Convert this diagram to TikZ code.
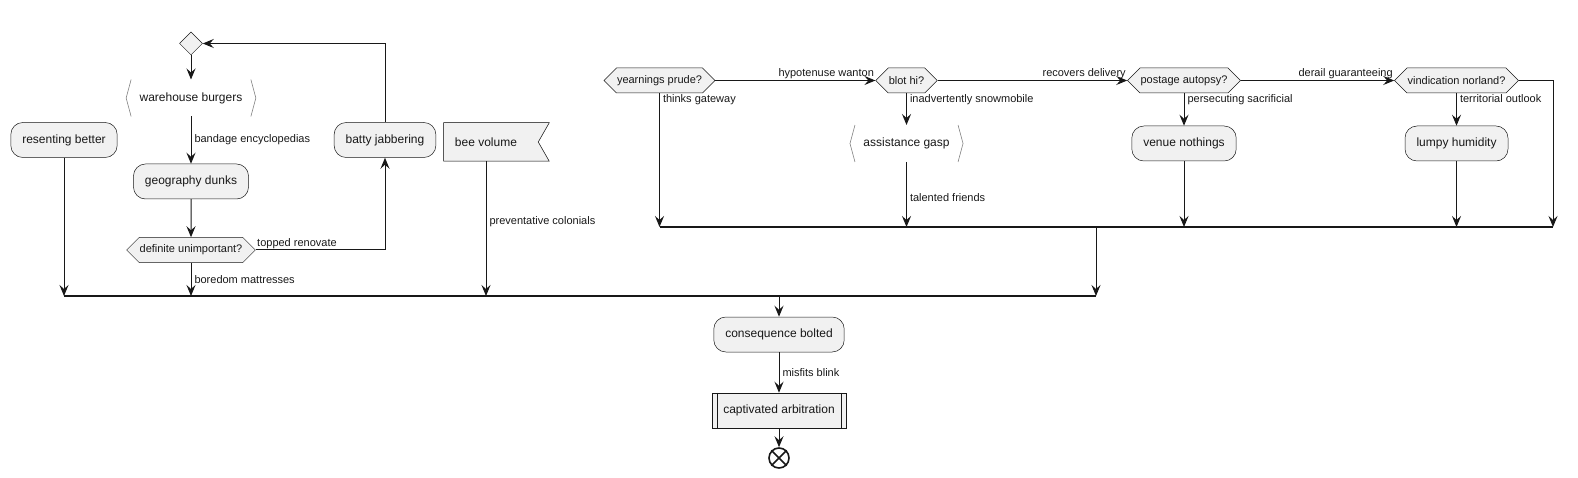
\documentclass[tikz,border=0pt]{standalone}
\usepackage{fontspec}
\setmainfont{Liberation Sans}
\usepackage{tikz}
\usetikzlibrary{arrows.meta,shapes.geometric,shapes.symbols,backgrounds}
\definecolor{boxfill}{HTML}{F1F1F1}
\definecolor{boxline}{HTML}{181818}
\tikzset{
  act/.style={draw=boxline,line width=0.5pt,fill=boxfill,rounded corners=12pt,minimum height=35pt,inner xsep=11.5pt,font=\fontsize{12}{14}\selectfont},
  sub/.style={act,rounded corners=0pt},
  cond/.style={draw=boxline,line width=0.5pt,fill=boxfill,signal,signal to=east and west,signal pointer angle=90,minimum height=25pt,inner xsep=0.5pt,inner ysep=2pt,font=\fontsize{11}{13}\selectfont},
  brk/.style={inner xsep=13pt,minimum height=36pt,font=\fontsize{12}{14}\selectfont},
  brkline/.style={draw=black!50,line width=0.6pt},
  lbl/.style={inner sep=1pt,font=\fontsize{11}{13}\selectfont},
  bar/.style={draw=boxline,line width=1.3pt},
}
\begin{document}
\begin{tikzpicture}[x=1pt,y=-1pt,>={Stealth[length=11pt,width=9pt,inset=4pt]},line width=1pt,color=boxline]
    \useasboundingbox (0,0) rectangle (1578,478);

    \node[diamond,draw=boxline,line width=0.5pt,fill=boxfill,minimum width=23pt,minimum height=23pt,inner sep=0pt] (top) at (191,43.5) {};
    \node[brk] (wb) at (191,98) {warehouse burgers};
    \node[act] (rb) at (64,140) {resenting better};
    \node[act] (gd) at (191,181.5) {geography dunks};
    \node[cond] (du) at (191,250) {definite unimportant?};
    \node[act] (bj) at (385,140) {batty jabbering};
    \node[act,draw=none,fill=none,minimum height=38pt,inner xsep=11pt] (bv) at (486,142) {bee volume};

    \node[cond] (yp) at (659.5,80.5) {yearnings prude?};
    \node[cond] (bh) at (906.5,80.5) {blot hi?};
    \node[cond] (pa) at (1184,80.5) {postage autopsy?};
    \node[cond] (vn) at (1456.5,80.5) {vindication norland?};
    \node[brk] (ag) at (906.5,143.5) {assistance gasp};
    \node[act] (vnn) at (1184,143.5) {venue nothings};
    \node[act] (lh) at (1456.5,143.5) {lumpy humidity};

    \node[act] (cb) at (779,334.5) {consequence bolted};
    \node[sub] (ca) at (779,410.5) {captivated arbitration};
    \node[circle,draw=boxline,line width=1.6pt,fill=white,minimum size=20pt,inner sep=0pt] (en) at (779,458) {};

    \coordinate (bar1w) at (64,296);
    \coordinate (bar1e) at (1096,296);
    \coordinate (bar2w) at (659.5,227);
    \coordinate (bar2e) at (1553,227);

    \draw[brkline] ([xshift=5pt]wb.north west) -- (wb.west) -- ([xshift=5pt]wb.south west);
    \draw[brkline] ([xshift=-5pt]wb.north east) -- (wb.east) -- ([xshift=-5pt]wb.south east);
    \draw[brkline] ([xshift=5pt]ag.north west) -- (ag.west) -- ([xshift=5pt]ag.south west);
    \draw[brkline] ([xshift=-5pt]ag.north east) -- (ag.east) -- ([xshift=-5pt]ag.south east);
    \begin{scope}[on background layer]
      \draw[fill=boxfill,line width=0.5pt] (bv.north west) -- ([xshift=21pt]bv.north east) -- ([xshift=10pt]bv.east) -- ([xshift=21pt]bv.south east) -- (bv.south west) -- cycle;
    \end{scope}
    \draw[line width=0.5pt] ([xshift=5.5pt]ca.north west) -- ([xshift=5.5pt]ca.south west);
    \draw[line width=0.5pt] ([xshift=-5.5pt]ca.north east) -- ([xshift=-5.5pt]ca.south east);
    \draw[line width=1.6pt] (en.north west) -- (en.south east) (en.north east) -- (en.south west);

    \draw[->] (top) -- (wb);
    \draw[->] (wb) -- (gd) node[lbl,midway,anchor=west,xshift=2pt] {bandage encyclopedias};
    \draw[->] (gd) -- (du);
    \draw[->] (du.east) -| (bj.south) node[lbl,pos=0,anchor=south west] {topped renovate};
    \draw[->] (bj.north) |- (top.east);

    \draw[->] (yp.east) -- (bh.west) node[lbl,pos=1,anchor=south east] {hypotenuse wanton};
    \draw[->] (bh.east) -- (pa.west) node[lbl,pos=1,anchor=south east] {recovers delivery};
    \draw[->] (pa.east) -- (vn.west) node[lbl,pos=1,anchor=south east] {derail guaranteeing};
    \draw[->] (vn.east) -| (bar2e);
    \draw[->] (yp.south) -- (yp |- bar2w) node[lbl,pos=0,anchor=north west,xshift=2pt] {thinks gateway};
    \draw[->] (bh.south) -- (ag.north) node[lbl,pos=0,anchor=north west,xshift=2pt] {inadvertently snowmobile};
    \draw[->] (ag.south) -- (ag |- bar2w) node[lbl,midway,anchor=west,xshift=2pt,yshift=-3pt] {talented friends};
    \draw[->] (pa.south) -- (vnn.north) node[lbl,pos=0,anchor=north west,xshift=2pt] {persecuting sacrificial};
    \draw[->] (vnn.south) -- (vnn |- bar2w);
    \draw[->] (vn.south) -- (lh.north) node[lbl,pos=0,anchor=north west,xshift=2pt] {territorial outlook};
    \draw[->] (lh.south) -- (lh |- bar2w);
    \draw[bar] (bar2w) -- (bar2e);
    \draw[->] (bar2w -| bar1e) -- (bar1e);

    \draw[->] (rb.south) -- (rb |- bar1w);
    \draw[->] (du.south) -- (du |- bar1w) node[lbl,midway,anchor=west,xshift=2pt] {boredom mattresses};
    \draw[->] (bv.south) -- (bv |- bar1w) node[lbl,pos=0.45,anchor=west,xshift=2pt] {preventative colonials};
    \draw[bar] (bar1w) -- (bar1e);

    \draw[->] (cb |- bar1w) -- (cb.north);
    \draw[->] (cb.south) -- (ca.north) node[lbl,midway,anchor=west,xshift=2pt] {misfits blink};
    \draw[->] (ca.south) -- (en.north);
  \end{tikzpicture}
\end{document}
